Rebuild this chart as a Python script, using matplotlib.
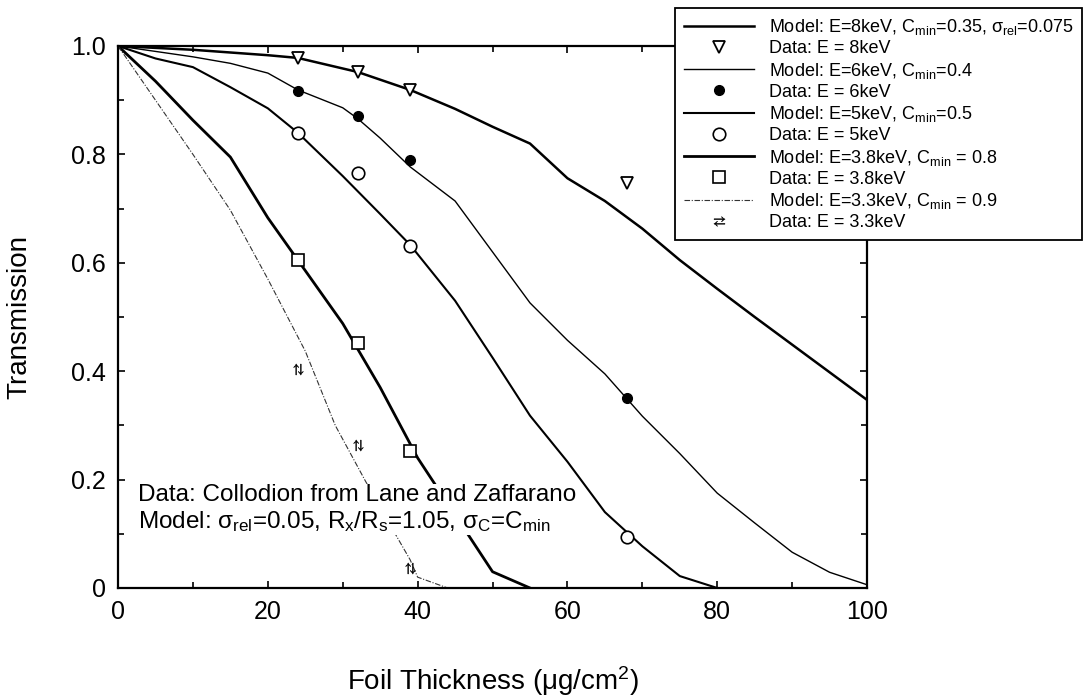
import matplotlib
matplotlib.use("Agg")
import matplotlib.pyplot as plt
from matplotlib.lines import Line2D
from matplotlib.markers import MarkerStyle
from matplotlib.transforms import Affine2D
from matplotlib.ticker import MultipleLocator

plt.rcParams['font.family'] = ['Liberation Sans', 'DejaVu Sans']
plt.rcParams['mathtext.fontset'] = 'custom'
plt.rcParams['mathtext.rm'] = 'Liberation Sans'
plt.rcParams['mathtext.it'] = 'Liberation Sans:italic'
plt.rcParams['mathtext.bf'] = 'Liberation Sans:bold'

# model curves (foil thickness in ug/cm2, transmission)
model_8_x = [0, 10, 20, 24, 32, 39, 45, 50, 55, 60, 65, 70, 75, 80, 85, 90, 95, 100]
model_8_y = [1.0, 0.993, 0.983, 0.978, 0.952, 0.919, 0.884, 0.851, 0.82, 0.756, 0.714,
             0.663, 0.605, 0.552, 0.5, 0.449, 0.398, 0.347]

model_6_x = [0, 5, 10, 15, 20, 24, 30, 32, 35, 39, 45, 50, 55, 60, 65, 70, 75, 80, 85, 90, 95, 100]
model_6_y = [1.0, 0.99, 0.98, 0.968, 0.95, 0.919, 0.886, 0.866, 0.83, 0.777, 0.714, 0.62,
             0.526, 0.457, 0.395, 0.317, 0.248, 0.175, 0.12, 0.066, 0.029, 0.006]

model_5_x = [0, 5, 10, 15, 20, 24, 30, 35, 39, 45, 50, 55, 60, 65, 70, 75, 80]
model_5_y = [1.0, 0.977, 0.961, 0.924, 0.885, 0.84, 0.76, 0.69, 0.633, 0.53, 0.425, 0.318,
             0.233, 0.14, 0.077, 0.022, 0.0]

model_38_x = [0, 5, 10, 15, 20, 24, 30, 35, 40, 45, 50, 55]
model_38_y = [1.0, 0.935, 0.863, 0.795, 0.683, 0.605, 0.488, 0.37, 0.24, 0.135, 0.03, 0.0]

model_33_x = [0, 5, 10, 15, 20, 25, 29, 33, 37, 39, 40, 44]
model_33_y = [1.0, 0.90, 0.80, 0.697, 0.57, 0.437, 0.30, 0.198, 0.10, 0.052, 0.02, 0.0]

# measured points
data_x = [24, 32, 39, 68]
data_8 = [0.978, 0.952, 0.919, 0.747]
data_6 = [0.917, 0.871, 0.79, 0.35]
data_5 = [0.84, 0.766, 0.631, 0.094]
data_x_low = [24, 32, 39]
data_38 = [0.605, 0.452, 0.253]
data_33 = [0.404, 0.264, 0.037]

labels = [
    "Model: E=8keV, C$_{\\rm min}$=0.35, σ$_{\\rm rel}$=0.075",
    "Data: E = 8keV",
    "Model: E=6keV, C$_{\\rm min}$=0.4",
    "Data: E = 6keV",
    "Model: E=5keV, C$_{\\rm min}$=0.5",
    "Data: E = 5keV",
    "Model: E=3.8keV, C$_{\\rm min}$ = 0.8",
    "Data: E = 3.8keV",
    "Model: E=3.3keV, C$_{\\rm min}$ = 0.9",
    "Data: E = 3.3keV",
]

fig = plt.figure(figsize=(10.83, 6.99), dpi=100)
ax = fig.add_axes([0.109, 0.1588, 0.6916, 0.7754])

dash33 = (0, (5, 1.5, 1, 1.5))
ax.plot(model_8_x, model_8_y, color='black', lw=1.8, zorder=2)
ax.plot(model_6_x, model_6_y, color='black', lw=1.0, zorder=2)
ax.plot(model_5_x, model_5_y, color='black', lw=1.5, zorder=2)
ax.plot(model_38_x, model_38_y, color='black', lw=2.0, zorder=2)
ax.plot(model_33_x, model_33_y, color='#333333', lw=0.8, ls=dash33, zorder=2)

ax.plot(data_x, data_8, ls='none', marker='v', ms=9, mfc='white', mec='black', mew=1.3, zorder=3)
ax.plot(data_x, data_6, ls='none', marker='o', ms=7, mfc='black', mec='black', mew=1.0, zorder=3)
ax.plot(data_x, data_5, ls='none', marker='o', ms=9, mfc='white', mec='black', mew=1.2, zorder=3)
ax.plot(data_x_low, data_38, ls='none', marker='s', ms=9, mfc='white', mec='black', mew=1.2, zorder=3)
mk33 = MarkerStyle(r'$\rightleftarrows$', transform=Affine2D().rotate_deg(90))
ax.plot(data_x_low, data_33, ls='none', marker=mk33, ms=8, color='black', mew=0.3, zorder=3)

ax.set_xlim(0, 100)
ax.set_ylim(0, 1.0)
ax.xaxis.set_major_locator(MultipleLocator(20))
ax.xaxis.set_minor_locator(MultipleLocator(10))
ax.yaxis.set_minor_locator(MultipleLocator(0.1))
ax.set_yticks([0, 0.2, 0.4, 0.6, 0.8, 1.0])
ax.set_yticklabels(["0", "0.2", "0.4", "0.6", "0.8", "1.0"])
ax.tick_params(which='both', direction='in', top=True, right=True, width=1.2,
               labelsize=18, colors='black')
ax.tick_params(which='major', length=5, pad=9)
ax.tick_params(which='minor', length=4)
for sp in ax.spines.values():
    sp.set_linewidth(1.6)

ax.set_xlabel("Foil Thickness (μg/cm$^2$)", fontsize=20)
ax.set_ylabel("Transmission", fontsize=20)
ax.xaxis.set_label_coords(0.5, -0.141)
ax.yaxis.set_label_coords(-0.115, 0.5)

ax.text(2.6, 0.11,
        "Data: Collodion from Lane and Zaffarano\n"
        "Model: σ$_{\\rm rel}$=0.05, R$_{\\rm x}$/R$_{\\rm s}$=1.05, σ$_{\\rm C}$=C$_{\\rm min}$",
        fontsize=17.5, ha='left', va='baseline', linespacing=1.2, zorder=4,
        bbox=dict(facecolor='white', edgecolor='none', pad=0.5))

handles = [
    Line2D([], [], color='black', lw=1.8),
    Line2D([], [], ls='none', marker='v', ms=9, mfc='white', mec='black', mew=1.3),
    Line2D([], [], color='black', lw=1.0),
    Line2D([], [], ls='none', marker='o', ms=7, mfc='black', mec='black'),
    Line2D([], [], color='black', lw=1.5),
    Line2D([], [], ls='none', marker='o', ms=9, mfc='white', mec='black', mew=1.2),
    Line2D([], [], color='black', lw=2.0),
    Line2D([], [], ls='none', marker='s', ms=9, mfc='white', mec='black', mew=1.2),
    Line2D([], [], color='#333333', lw=0.8, ls=dash33),
    Line2D([], [], ls='none', marker=r'$\rightleftarrows$', ms=8, color='black', mew=0.3),
]
leg = ax.legend(handles, labels, loc='upper right', bbox_to_anchor=(0.9995, 1 - 8 / 699),
                bbox_transform=fig.transFigure, fontsize=13, frameon=True,
                fancybox=False, shadow=False, framealpha=1, edgecolor='black',
                handlelength=3.9, handletextpad=0.8, labelspacing=0.18,
                borderpad=0.5, borderaxespad=0, numpoints=1)
leg.get_frame().set_linewidth(1.3)
leg.set_zorder(5)

fig.savefig("out.png", dpi=100)
